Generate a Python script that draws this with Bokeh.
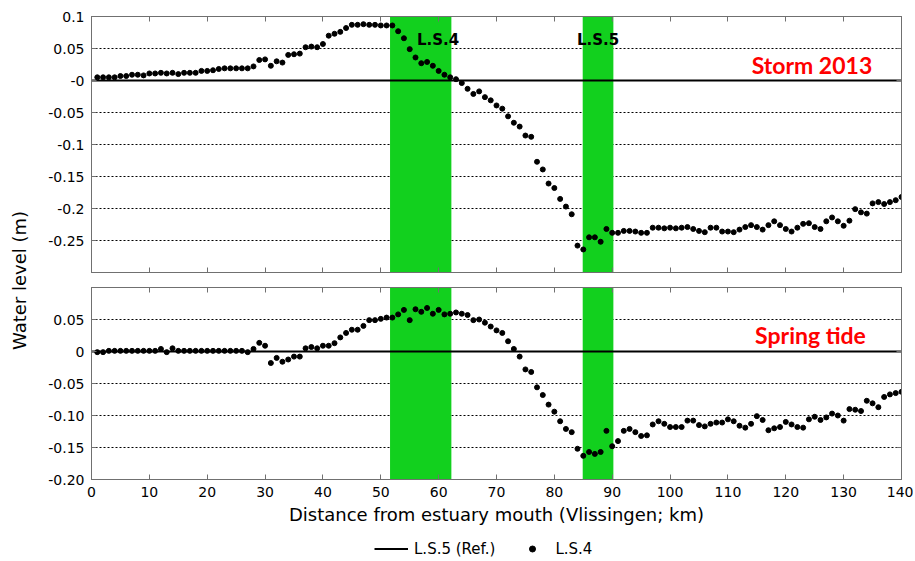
import math
from bokeh.plotting import figure
from bokeh.layouts import row, column
from bokeh.models import (Range1d, FixedTicker, LinearAxis, BoxAnnotation, Label,
                          Legend, LegendItem, Grid, CustomJSTickFormatter)
from bokeh.embed import file_html
from bokeh.resources import INLINE

# ---------------- data ----------------
km = [1, 2, 3, 4, 5, 6, 7, 8, 9, 10, 11, 12, 13, 14, 15, 16, 17, 18, 19, 20,
      21, 22, 23, 24, 25, 26, 27, 28, 29, 30, 31, 32, 33, 34, 35, 36, 37, 38, 39, 40,
      41, 42, 43, 44, 45, 46, 47, 48, 49, 50, 51, 52, 53, 54, 55, 56, 57, 58, 59, 60,
      61, 62, 63, 64, 65, 66, 67, 68, 69, 70, 71, 72, 73, 74, 75, 76, 77, 78, 79, 80,
      81, 82, 83, 84, 85, 86, 87, 88, 89, 90, 91, 92, 93, 94, 95, 96, 97, 98, 99, 100,
      101, 102, 103, 104, 105, 106, 107, 108, 109, 110, 111, 112, 113, 114, 115, 116, 117, 118, 119, 120,
      121, 122, 123, 124, 125, 126, 127, 128, 129, 130, 131, 132, 133, 134, 135, 136, 137, 138, 139, 140]

storm_2013 = [0.005, 0.005, 0.005, 0.005, 0.007, 0.007, 0.009, 0.009, 0.008, 0.011,
              0.011, 0.012, 0.011, 0.012, 0.010, 0.012, 0.012, 0.012, 0.015, 0.015,
              0.016, 0.018, 0.019, 0.019, 0.019, 0.019, 0.019, 0.022, 0.032, 0.033,
              0.023, 0.030, 0.028, 0.040, 0.041, 0.042, 0.052, 0.053, 0.052, 0.057,
              0.070, 0.073, 0.076, 0.082, 0.087, 0.087, 0.088, 0.087, 0.087, 0.086,
              0.086, 0.086, 0.077, 0.066, 0.049, 0.036, 0.027, 0.029, 0.023, 0.015,
              0.009, 0.005, 0.002, -0.004, -0.013, -0.021, -0.017, -0.026, -0.031, -0.039,
              -0.044, -0.056, -0.066, -0.072, -0.086, -0.088, -0.127, -0.139, -0.161, -0.168,
              -0.185, -0.197, -0.209, -0.258, -0.264, -0.245, -0.245, -0.252, -0.232, -0.238,
              -0.238, -0.235, -0.235, -0.236, -0.238, -0.238, -0.230, -0.230, -0.231, -0.230,
              -0.231, -0.230, -0.229, -0.232, -0.235, -0.237, -0.230, -0.230, -0.236, -0.236,
              -0.237, -0.233, -0.229, -0.226, -0.229, -0.233, -0.226, -0.220, -0.226, -0.232,
              -0.236, -0.230, -0.224, -0.223, -0.229, -0.232, -0.220, -0.214, -0.220, -0.227,
              -0.219, -0.201, -0.206, -0.208, -0.192, -0.190, -0.193, -0.190, -0.187, -0.182]

spring_tide = [-0.001, -0.001, 0.001, 0.001, 0.001, 0.001, 0.001, 0.001, 0.001, 0.001,
               0.001, 0.004, -0.001, 0.005, 0.001, 0.001, 0.001, 0.001, 0.001, 0.001,
               0.001, 0.001, 0.001, 0.001, 0.001, 0.001, -0.001, 0.004, 0.0135, 0.009,
               -0.018, -0.010, -0.016, -0.0125, -0.008, -0.008, 0.005, 0.007, 0.005, 0.009,
               0.009, 0.013, 0.022, 0.029, 0.034, 0.034, 0.040, 0.049, 0.049, 0.051,
               0.053, 0.053, 0.058, 0.065, 0.049, 0.066, 0.062, 0.068, 0.059, 0.065,
               0.058, 0.059, 0.061, 0.059, 0.057, 0.049, 0.050, 0.045, 0.039, 0.033,
               0.029, 0.016, 0.004, -0.008, -0.028, -0.032, -0.056, -0.068, -0.083, -0.094,
               -0.109, -0.121, -0.126, -0.152, -0.163, -0.157, -0.160, -0.157, -0.124, -0.148,
               -0.140, -0.124, -0.121, -0.126, -0.132, -0.131, -0.114, -0.109, -0.113, -0.118,
               -0.118, -0.118, -0.108, -0.108, -0.115, -0.117, -0.113, -0.111, -0.111, -0.106,
               -0.109, -0.116, -0.119, -0.113, -0.101, -0.107, -0.123, -0.120, -0.118, -0.110,
               -0.114, -0.118, -0.119, -0.106, -0.102, -0.107, -0.103, -0.097, -0.100, -0.108,
               -0.090, -0.091, -0.093, -0.077, -0.081, -0.087, -0.071, -0.067, -0.065, -0.063]

ref_km = [0, 140]
ref_level = [0.0, 0.0]          # L.S.5 is the reference station

band_ls4 = [51.6, 62.2]
band_ls5 = [84.9, 90.2]

x_ticks = [0, 10, 20, 30, 40, 50, 60, 70, 80, 90, 100, 110, 120, 130, 140]
x_tick_labels = ["0", "10", "20", "30", "40", "50", "60", "70", "80", "90",
                 "100", "110", "120", "130", "140"]
storm_ticks = [0.1, 0.05, 0.0, -0.05, -0.1, -0.15, -0.2, -0.25]
storm_tick_labels = ["0.1", "0.05", "-0", "-0.05", "-0.1", "-0.15", "-0.2", "-0.25"]
spring_ticks = [0.05, 0.0, -0.05, -0.1, -0.15, -0.2]
spring_tick_labels = ["0.05", "0", "-0.05", "-0.10", "-0.15", "-0.20"]
storm_range = (-0.3, 0.1)
spring_range = (-0.2, 0.1)

# ---------------- style ----------------
FONT = "DejaVu Sans"
GRAY = "#707070"
GREEN = "#12d01e"
FW = 810


def label_formatter(ticks, labels):
    return CustomJSTickFormatter(args=dict(t=ticks, l=labels), code="""
        let best = -1, bd = 1e9;
        for (let i = 0; i < t.length; i++) {
            const d = Math.abs(t[i] - tick);
            if (d < bd) { bd = d; best = i; }
        }
        return bd < 1e-9 ? l[best] : '';
    """)


def style_axis(ax, show, standoff=7):
    ax.major_tick_in = 5
    ax.major_tick_out = 0
    ax.minor_tick_in = 0
    ax.minor_tick_out = 0
    ax.major_tick_line_color = GRAY
    ax.axis_line_color = GRAY
    if show:
        ax.major_label_text_font = FONT
        ax.major_label_text_font_size = "14px"
        ax.major_label_text_color = "black"
        ax.major_label_standoff = standoff
    else:
        ax.formatter = CustomJSTickFormatter(code="return '';")
        ax.major_label_text_font_size = "0px"
        ax.major_label_standoff = 0


def make_panel(values, y_rng, ticks, tick_labels, frame_h, show_x, min_top, min_bottom):
    p = figure(frame_width=FW, frame_height=frame_h,
               x_range=Range1d(0, 140), y_range=Range1d(*y_rng),
               x_axis_type=None, y_axis_type=None,
               output_backend="svg", toolbar_location=None,
               min_border_left=53, min_border_right=12,
               min_border_top=min_top, min_border_bottom=min_bottom,
               background_fill_color="white", border_fill_color="white",
               outline_line_color=GRAY, outline_line_width=1)
    grid_vals = [t for t in ticks if y_rng[0] < t < y_rng[1]]
    p.add_layout(Grid(dimension=1, ticker=FixedTicker(ticks=grid_vals),
                      grid_line_color="black", grid_line_dash="2 2",
                      grid_line_width=1))
    for band in (band_ls4, band_ls5):
        p.add_layout(BoxAnnotation(left=band[0], right=band[1], fill_color=GREEN,
                                   fill_alpha=1, line_color=None, level="underlay"))

    left = LinearAxis(ticker=FixedTicker(ticks=ticks),
                      formatter=label_formatter(ticks, tick_labels))
    style_axis(left, True, 7)
    p.add_layout(left, "left")
    right = LinearAxis(ticker=FixedTicker(ticks=ticks))
    style_axis(right, False)
    p.add_layout(right, "right")
    top = LinearAxis(ticker=FixedTicker(ticks=x_ticks))
    style_axis(top, False)
    p.add_layout(top, "above")
    bottom = LinearAxis(ticker=FixedTicker(ticks=x_ticks),
                        formatter=label_formatter(x_ticks, x_tick_labels))
    style_axis(bottom, show_x, 7)
    p.add_layout(bottom, "below")

    p.line(ref_km, ref_level, line_color="black", line_width=2)
    p.scatter(km, values, size=5, color="black")
    return p, bottom


top_p, _ = make_panel(storm_2013, storm_range, storm_ticks, storm_tick_labels,
                      256, False, 16, 7)
bot_p, bot_axis = make_panel(spring_tide, spring_range, spring_ticks,
                             spring_tick_labels, 192, True, 8, 4)

bot_axis.axis_label = "Distance from estuary mouth (Vlissingen; km)"
bot_axis.axis_label_text_font = FONT
bot_axis.axis_label_text_font_size = "18px"
bot_axis.axis_label_text_font_style = "normal"
bot_axis.axis_label_text_color = "black"
bot_axis.axis_label_standoff = 4

# station labels and panel titles
for txt, xk in (("L.S.4", 56.25), ("L.S.5", 83.9)):
    top_p.add_layout(Label(x=xk, y=0.0633, text=txt, text_font=FONT,
                           text_font_style="bold", text_font_size="15px",
                           text_color="black", text_align="left",
                           text_baseline="middle"))
top_p.add_layout(Label(x=114.1, y=0.0235, text="Storm 2013", text_font="Lato",
                       text_font_style="bold", text_font_size="23px",
                       text_color="#ff0000", text_align="left",
                       text_baseline="middle"))
bot_p.add_layout(Label(x=114.7, y=0.026, text="Spring tide", text_font="Lato",
                       text_font_style="bold", text_font_size="23px",
                       text_color="#ff0000", text_align="left",
                       text_baseline="middle"))

# legend strip: same series (styled identically) referenced by the legend;
# its y range lies above the data so only the legend keys are shown
leg_p = figure(frame_width=FW, frame_height=18, x_range=Range1d(0, 140),
               y_range=Range1d(1, 2), x_axis_type=None, y_axis_type=None,
               output_backend="svg", toolbar_location=None,
               min_border_left=53, min_border_right=12,
               min_border_top=14, min_border_bottom=0,
               outline_line_color=None, background_fill_color="white",
               border_fill_color="white")
lg_line = leg_p.line(ref_km, ref_level, line_color="black", line_width=2)
lg_dot = leg_p.scatter(km, spring_tide, size=5, color="black")
legend = Legend(items=[LegendItem(label="L.S.5 (Ref.)", renderers=[lg_line]),
                       LegendItem(label="L.S.4", renderers=[lg_dot])],
                location=(283, 1.5), orientation="horizontal",
                border_line_color=None, background_fill_alpha=0,
                label_text_font=FONT, label_text_font_size="15px",
                label_text_color="black",
                glyph_width=34, glyph_height=15, label_height=15,
                label_standoff=6, spacing=20, padding=0, margin=0)
leg_p.add_layout(legend)

# y-axis title shared by both panels
H = 545
lab = figure(width=38, height=H, x_range=Range1d(0, 38), y_range=Range1d(0, H),
             x_axis_type=None, y_axis_type=None, output_backend="svg",
             toolbar_location=None, min_border=0, outline_line_color=None,
             background_fill_color="white", border_fill_color="white")
lab.add_layout(Label(x=18.5, y=H - 280, text="Water level (m)", angle=math.pi / 2,
                     text_align="center", text_baseline="middle", text_font=FONT,
                     text_font_size="18px", text_color="black"))

layout = row(lab, column(top_p, bot_p, leg_p))
open("out.html", "w").write(file_html(layout, INLINE))
